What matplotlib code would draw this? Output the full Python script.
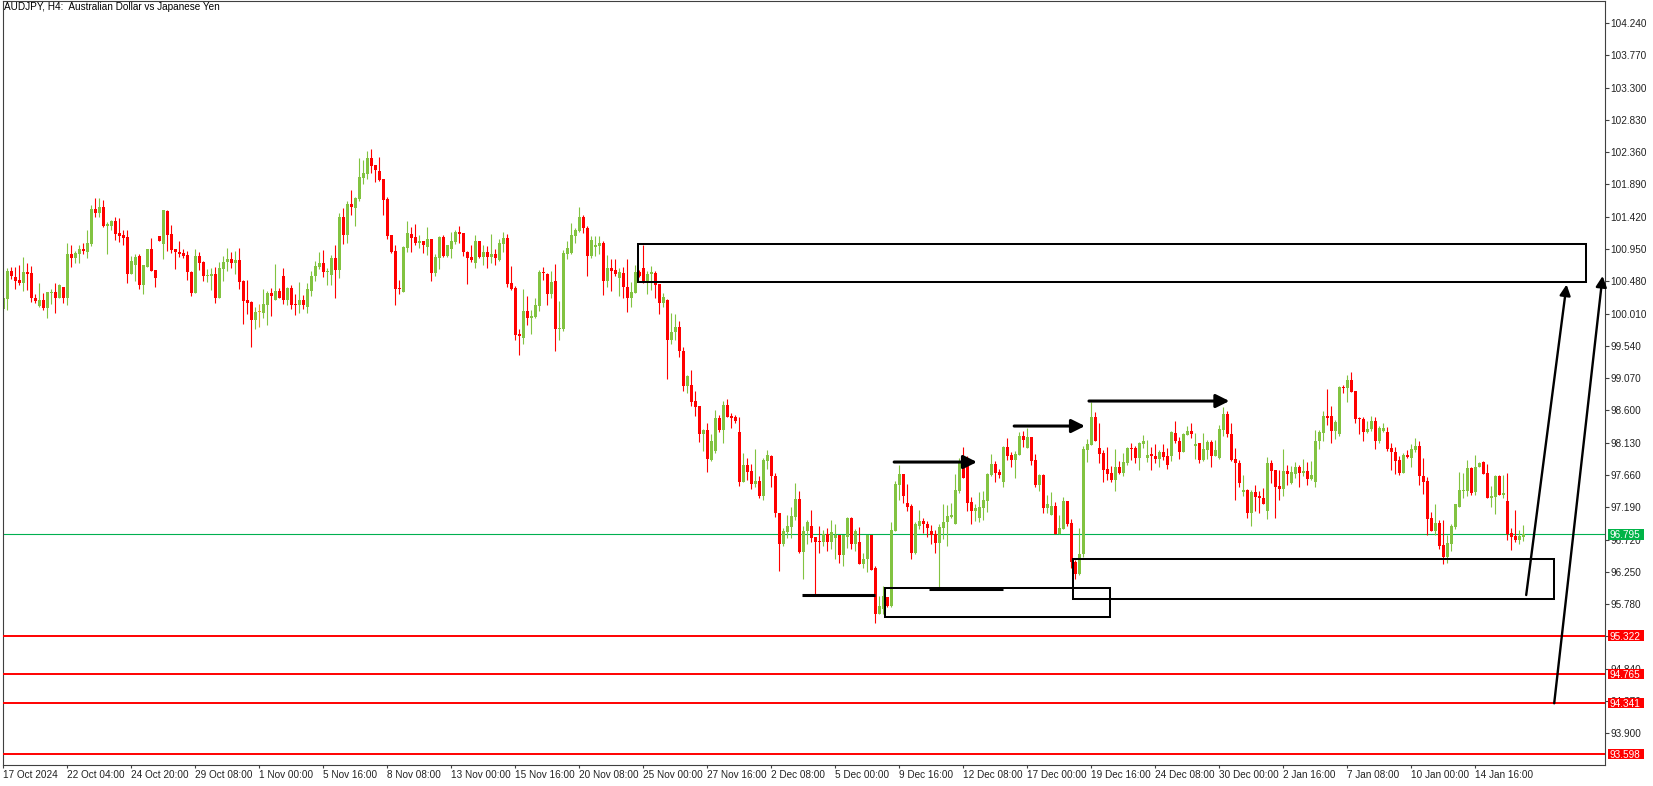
import matplotlib
matplotlib.use('Agg')
import matplotlib.pyplot as plt
import matplotlib.transforms as mtransforms
from matplotlib.patches import Rectangle
import numpy as np

plt.rcParams['font.family'] = ['Liberation Sans', 'DejaVu Sans']

# AUDJPY H4 candles, bar index 0 = 17 Oct 2024 12:00
opens = [
    100.07, 100.22, 100.63, 100.54, 100.50, 100.46, 100.62, 100.60, 100.24, 100.12,
    100.21, 100.09, 100.31, 100.32, 100.23, 100.40, 100.24, 100.88, 100.82, 100.88,
    100.95, 100.91, 101.03, 101.53, 101.48, 101.56, 101.29, 101.28, 101.36, 101.18,
    101.15, 101.12, 100.59, 100.72, 100.85, 100.42, 100.69, 100.95, 100.64, 101.14,
    101.03, 101.50, 101.17, 100.95, 100.91, 100.89, 100.86, 100.62, 100.31, 100.85,
    100.76, 100.55, 100.56, 100.59, 100.23, 100.66, 100.76, 100.80, 100.74, 100.79,
    100.48, 100.21, 100.18, 99.92, 100.03, 100.02, 100.14, 100.31, 100.21, 100.34,
    100.56, 100.21, 100.38, 100.15, 100.13, 100.21, 100.11, 100.34, 100.55, 100.69,
    100.75, 100.62, 100.57, 100.82, 100.64, 101.42, 101.15, 101.61, 101.55, 101.68,
    101.98, 102.04, 102.27, 102.17, 102.09, 101.97, 101.68, 101.15, 100.92, 100.38,
    100.32, 100.96, 101.17, 101.12, 101.04, 101.07, 100.98, 101.10, 100.60, 100.82,
    101.12, 100.85, 100.95, 101.05, 101.20, 101.18, 100.91, 100.83, 100.75, 101.07,
    100.84, 100.91, 100.84, 100.88, 100.79, 101.03, 101.11, 100.45, 100.38, 99.72,
    99.66, 100.05, 99.95, 99.96, 100.12, 100.61, 100.59, 100.29, 100.48, 99.78,
    99.79, 100.88, 100.89, 101.14, 101.21, 101.42, 101.26, 100.85, 100.98, 100.99,
    101.04, 100.49, 100.67, 100.64, 100.53, 100.60, 100.40, 100.23, 100.31, 100.61,
    100.67, 100.47, 100.58, 100.60, 100.44, 100.17, 100.21, 99.63, 99.74, 99.81,
    99.46, 98.96, 98.97, 98.74, 98.67, 98.25, 98.32, 97.88, 98.01, 98.49,
    98.32, 98.68, 98.52, 98.51, 98.29, 97.56, 97.80, 97.72, 97.53, 97.57,
    97.35, 97.86, 97.94, 97.65, 97.10, 96.65, 96.83, 96.91, 97.05, 97.31,
    96.54, 96.85, 96.92, 96.76, 96.70, 96.68, 96.80, 96.69, 96.75, 96.78,
    96.50, 96.76, 97.03, 96.65, 96.68, 96.37, 96.44, 96.78, 96.31, 95.64,
    95.71, 95.88, 95.75, 96.85, 97.52, 97.68, 97.25, 97.21, 96.53, 96.92,
    96.99, 96.95, 96.85, 96.80, 96.67, 96.89, 96.97, 97.05, 96.94, 97.43,
    97.83, 97.80, 97.27, 97.14, 97.03, 97.18, 97.28, 97.66, 97.82, 97.70,
    97.56, 98.07, 97.95, 97.88, 97.95, 98.23, 98.05, 98.21, 97.88, 97.51,
    97.66, 97.18, 97.08, 97.21, 96.80, 96.88, 97.28, 96.96, 96.40, 96.22,
    96.51, 98.02, 98.10, 98.50, 98.05, 97.98, 97.75, 97.69, 97.59, 97.78,
    97.69, 97.83, 98.05, 98.05, 97.91, 98.11, 97.91, 97.96, 97.94, 97.90,
    98.00, 97.94, 97.93, 98.27, 98.16, 98.00, 98.24, 98.30, 98.08, 98.13,
    97.88, 98.03, 98.14, 97.94, 97.91, 98.32, 98.55, 98.26, 97.89, 97.84,
    97.42, 97.44, 97.11, 97.41, 97.35, 97.33, 97.13, 97.84, 97.73, 97.50,
    97.46, 97.72, 97.55, 97.68, 97.78, 97.69, 97.72, 97.60, 97.56, 98.15,
    98.27, 98.52, 98.52, 98.30, 98.26, 98.94, 98.93, 99.04, 98.88, 98.49,
    98.48, 98.29, 98.33, 98.45, 98.15, 98.30, 98.29, 98.05, 97.99, 97.88,
    97.69, 97.95, 97.91, 98.03, 98.08, 97.65, 97.57, 97.03, 96.85, 96.96,
    96.64, 96.46, 96.66, 96.91, 97.20, 97.43, 97.43, 97.76, 97.41, 97.77,
    97.85, 97.69, 97.33, 97.34, 97.65, 97.37, 97.28, 96.82, 96.77, 96.71,
    96.76,
]
highs = [
    100.24, 100.67, 100.69, 100.69, 100.72, 100.83, 100.75, 100.70, 100.30, 100.45,
    100.31, 100.32, 100.37, 100.46, 100.44, 100.40, 101.04, 101.01, 100.92, 101.01,
    101.04, 101.23, 101.59, 101.69, 101.69, 101.66, 101.34, 101.37, 101.42, 101.40,
    101.22, 101.23, 100.85, 100.88, 100.88, 100.72, 100.95, 101.11, 100.64, 101.14,
    101.52, 101.52, 101.30, 100.95, 101.07, 100.95, 100.92, 100.63, 100.95, 100.91,
    100.78, 100.66, 100.67, 100.69, 100.76, 100.85, 100.96, 100.91, 100.92, 100.96,
    100.50, 100.50, 100.20, 100.11, 100.15, 100.37, 100.34, 100.38, 100.73, 100.38,
    100.67, 100.40, 100.43, 100.30, 100.47, 100.28, 100.46, 100.63, 100.78, 100.91,
    100.94, 100.67, 100.86, 101.01, 101.47, 101.55, 101.65, 101.81, 101.71, 102.27,
    102.25, 102.38, 102.41, 102.17, 102.29, 101.97, 101.71, 101.15, 101.01, 100.50,
    100.99, 101.36, 101.27, 101.31, 101.15, 101.07, 101.27, 101.10, 100.88, 101.14,
    101.15, 101.01, 101.20, 101.23, 101.28, 101.18, 100.92, 101.01, 101.15, 101.07,
    101.01, 101.00, 101.17, 100.95, 101.10, 101.20, 101.17, 100.70, 100.41, 99.79,
    100.37, 100.26, 100.06, 100.24, 100.64, 100.69, 100.60, 100.63, 100.73, 100.19,
    100.94, 101.07, 101.33, 101.25, 101.56, 101.44, 101.28, 101.14, 101.14, 101.14,
    101.07, 100.86, 100.80, 100.80, 100.67, 100.69, 100.80, 100.47, 100.72, 100.65,
    101.01, 100.63, 100.70, 100.63, 100.44, 100.31, 100.22, 100.02, 100.00, 99.90,
    99.52, 99.12, 99.19, 98.88, 98.67, 98.33, 98.42, 98.25, 98.61, 98.54,
    98.74, 98.76, 98.57, 98.54, 98.51, 97.98, 97.91, 97.82, 98.04, 97.65,
    97.91, 98.02, 97.95, 97.69, 97.11, 96.89, 97.08, 97.20, 97.54, 97.43,
    96.92, 97.01, 97.15, 96.76, 96.92, 96.86, 96.89, 97.01, 96.95, 96.79,
    96.79, 97.05, 97.05, 96.87, 96.90, 96.52, 96.79, 96.79, 96.34, 95.90,
    96.04, 95.88, 96.98, 97.57, 97.81, 97.68, 97.53, 97.24, 96.97, 97.15,
    97.03, 96.99, 96.93, 96.86, 96.94, 97.24, 97.22, 97.25, 97.67, 97.91,
    98.07, 97.94, 97.34, 97.24, 97.41, 97.43, 97.69, 97.97, 97.86, 97.75,
    98.08, 98.20, 98.00, 98.01, 98.29, 98.30, 98.34, 98.21, 97.97, 97.67,
    97.67, 97.37, 97.41, 97.27, 97.08, 97.34, 97.28, 97.02, 96.42, 96.89,
    98.08, 98.18, 98.72, 98.58, 98.42, 98.02, 98.07, 97.79, 98.04, 97.86,
    97.98, 98.07, 98.13, 98.08, 98.14, 98.24, 98.17, 98.07, 98.11, 98.02,
    98.11, 98.05, 98.30, 98.45, 98.21, 98.27, 98.37, 98.42, 98.27, 98.13,
    98.27, 98.17, 98.17, 98.17, 98.39, 98.65, 98.59, 98.42, 98.05, 97.88,
    97.66, 97.46, 97.44, 97.51, 97.43, 97.47, 97.92, 97.88, 97.73, 97.73,
    98.04, 97.81, 97.79, 97.85, 97.81, 97.89, 97.85, 97.86, 98.31, 98.31,
    98.59, 98.91, 98.66, 98.46, 98.96, 98.97, 99.12, 99.16, 98.88, 98.51,
    98.50, 98.45, 98.52, 98.50, 98.38, 98.42, 98.36, 98.13, 98.07, 97.94,
    97.98, 98.02, 98.11, 98.20, 98.15, 97.91, 97.63, 97.12, 97.24, 97.00,
    97.00, 96.79, 96.95, 97.24, 97.70, 97.69, 97.88, 97.78, 97.95, 97.85,
    97.86, 97.82, 97.50, 97.66, 97.66, 97.66, 97.69, 96.89, 97.15, 96.86,
    96.93,
]
lows = [
    100.05, 100.06, 100.52, 100.37, 100.43, 100.34, 100.35, 100.18, 100.17, 100.11,
    100.06, 99.94, 100.15, 100.02, 100.23, 100.17, 100.14, 100.69, 100.74, 100.74,
    100.87, 100.82, 101.00, 101.42, 101.42, 101.27, 100.88, 101.22, 101.08, 101.05,
    101.01, 100.45, 100.59, 100.49, 100.37, 100.29, 100.69, 100.63, 100.39, 101.07,
    100.80, 100.92, 100.89, 100.66, 100.83, 100.82, 100.50, 100.26, 100.31, 100.64,
    100.48, 100.47, 100.35, 100.17, 100.23, 100.49, 100.63, 100.68, 100.59, 100.37,
    99.86, 100.01, 99.53, 99.79, 99.82, 99.94, 99.85, 99.97, 100.21, 100.23,
    100.15, 100.14, 100.07, 99.99, 100.02, 100.08, 100.02, 100.26, 100.48, 100.66,
    100.54, 100.42, 100.43, 100.24, 100.53, 101.02, 101.04, 101.44, 101.28, 101.65,
    101.90, 101.97, 102.06, 101.93, 101.94, 101.44, 101.10, 100.89, 100.13, 100.29,
    100.32, 100.91, 100.91, 101.01, 100.96, 100.89, 100.86, 100.48, 100.56, 100.66,
    100.83, 100.83, 100.82, 101.02, 101.04, 100.85, 100.44, 100.76, 100.67, 100.82,
    100.72, 100.67, 100.75, 100.71, 100.77, 100.91, 100.40, 100.36, 99.63, 99.41,
    99.56, 99.85, 99.72, 99.94, 100.05, 100.50, 100.14, 100.24, 99.47, 99.63,
    99.76, 100.81, 100.88, 101.04, 101.20, 101.19, 100.56, 100.82, 100.85, 100.88,
    100.28, 100.39, 100.34, 100.56, 100.26, 100.24, 100.04, 100.10, 100.31, 100.54,
    100.45, 100.30, 100.35, 100.24, 100.00, 100.10, 99.06, 99.57, 99.62, 99.38,
    98.89, 98.86, 98.67, 98.52, 98.14, 98.01, 97.71, 97.87, 97.98, 98.28,
    98.13, 98.50, 98.34, 98.42, 97.50, 97.56, 97.59, 97.45, 97.48, 97.33,
    97.29, 97.75, 97.48, 97.05, 96.27, 96.63, 96.74, 96.75, 97.01, 96.53,
    96.15, 96.66, 96.68, 95.91, 96.52, 96.62, 96.56, 96.59, 96.44, 96.38,
    96.33, 96.60, 96.59, 96.56, 96.37, 96.31, 96.25, 96.28, 95.51, 95.64,
    95.64, 95.74, 95.74, 96.85, 97.30, 97.26, 97.13, 96.44, 96.51, 96.87,
    96.82, 96.76, 96.66, 96.53, 96.03, 96.73, 96.63, 97.04, 96.94, 97.40,
    97.61, 97.14, 96.95, 96.99, 96.98, 97.00, 97.12, 97.65, 97.56, 97.62,
    97.48, 97.88, 97.77, 97.62, 97.95, 98.07, 98.05, 97.81, 97.48, 97.43,
    97.11, 97.11, 97.08, 96.80, 96.80, 96.87, 96.92, 96.30, 96.14, 96.20,
    96.47, 97.85, 98.10, 98.15, 97.84, 97.56, 97.59, 97.56, 97.43, 97.68,
    97.64, 97.80, 97.88, 97.83, 97.74, 98.06, 97.85, 97.74, 97.84, 97.77,
    97.88, 97.75, 97.87, 98.12, 97.90, 97.99, 98.24, 98.20, 97.89, 97.84,
    97.87, 97.90, 97.77, 97.93, 97.90, 98.23, 98.21, 97.86, 97.29, 97.49,
    97.36, 97.04, 96.92, 97.13, 97.10, 97.24, 97.02, 97.55, 97.04, 97.30,
    97.36, 97.52, 97.53, 97.61, 97.49, 97.64, 97.52, 97.59, 97.49, 98.04,
    98.15, 98.39, 98.13, 98.19, 98.23, 98.86, 98.73, 98.87, 98.41, 98.25,
    98.15, 98.27, 98.30, 98.04, 98.12, 98.29, 98.01, 97.74, 97.68, 97.66,
    97.69, 97.91, 97.78, 97.99, 97.52, 97.39, 96.78, 96.85, 96.78, 96.59,
    96.37, 96.38, 96.56, 96.88, 97.20, 97.32, 97.36, 97.37, 97.37, 97.77,
    97.67, 97.32, 97.19, 97.09, 97.37, 97.33, 96.71, 96.57, 96.68, 96.65,
    96.70,
]
closes = [
    100.23, 100.63, 100.56, 100.48, 100.45, 100.62, 100.59, 100.23, 100.20, 100.21,
    100.09, 100.32, 100.32, 100.23, 100.43, 100.24, 100.88, 100.82, 100.89, 100.95,
    100.92, 101.04, 101.53, 101.48, 101.56, 101.28, 101.31, 101.36, 101.17, 101.14,
    101.11, 100.59, 100.78, 100.83, 100.42, 100.72, 100.95, 100.63, 100.53, 101.07,
    101.52, 101.15, 100.94, 100.90, 100.88, 100.85, 100.61, 100.31, 100.85, 100.75,
    100.55, 100.57, 100.59, 100.23, 100.67, 100.76, 100.80, 100.75, 100.79, 100.47,
    100.20, 100.17, 99.92, 100.03, 100.03, 100.15, 100.31, 100.26, 100.34, 100.23,
    100.21, 100.38, 100.14, 100.13, 100.21, 100.14, 100.37, 100.56, 100.70, 100.75,
    100.62, 100.63, 100.82, 100.64, 101.42, 101.15, 101.61, 101.56, 101.69, 102.00,
    102.06, 102.27, 102.16, 102.10, 101.95, 101.66, 101.14, 100.91, 100.37, 100.37,
    100.98, 101.18, 101.11, 101.04, 101.07, 101.01, 101.10, 100.60, 100.83, 101.12,
    100.85, 101.01, 101.07, 101.20, 101.17, 100.90, 100.82, 100.79, 101.07, 100.84,
    100.91, 100.83, 100.88, 100.82, 101.04, 101.11, 100.44, 100.37, 99.70, 99.69,
    100.05, 99.95, 99.98, 100.13, 100.61, 100.60, 100.29, 100.47, 99.78, 99.80,
    100.89, 100.96, 101.15, 101.23, 101.42, 101.25, 100.85, 101.08, 101.01, 101.04,
    100.49, 100.68, 100.63, 100.58, 100.61, 100.39, 100.23, 100.32, 100.61, 100.55,
    100.47, 100.59, 100.61, 100.43, 100.17, 100.25, 99.62, 99.74, 99.81, 99.46,
    98.96, 99.10, 98.73, 98.65, 98.25, 98.32, 97.90, 98.16, 98.49, 98.32,
    98.68, 98.51, 98.49, 98.44, 97.56, 97.80, 97.71, 97.53, 97.58, 97.35,
    97.88, 97.95, 97.64, 97.10, 96.65, 96.85, 96.92, 97.06, 97.31, 96.54,
    96.85, 96.98, 96.75, 96.69, 96.68, 96.80, 96.69, 96.83, 96.78, 96.50,
    96.78, 97.03, 96.65, 96.85, 96.37, 96.44, 96.78, 96.28, 95.64, 95.75,
    95.90, 95.75, 96.86, 97.53, 97.68, 97.36, 97.20, 96.53, 96.94, 96.99,
    96.94, 96.89, 96.79, 96.67, 96.91, 96.98, 97.06, 97.08, 97.44, 97.83,
    97.61, 97.26, 97.14, 97.18, 97.19, 97.30, 97.67, 97.82, 97.69, 97.66,
    98.07, 97.94, 97.88, 97.97, 98.23, 98.17, 98.21, 97.86, 97.51, 97.66,
    97.18, 97.24, 97.21, 96.80, 96.89, 97.28, 96.94, 96.40, 96.22, 96.51,
    98.04, 98.11, 98.50, 98.15, 97.97, 97.74, 97.68, 97.59, 97.78, 97.69,
    97.85, 98.05, 98.04, 97.91, 98.13, 98.16, 97.95, 97.94, 97.90, 98.00,
    97.92, 97.81, 98.29, 98.15, 98.00, 98.26, 98.30, 98.26, 98.11, 97.88,
    98.04, 98.14, 97.94, 98.02, 98.33, 98.55, 98.26, 97.88, 97.83, 97.55,
    97.44, 97.11, 97.41, 97.34, 97.33, 97.24, 97.84, 97.72, 97.48, 97.46,
    97.72, 97.67, 97.70, 97.78, 97.69, 97.72, 97.60, 97.66, 98.16, 98.29,
    98.52, 98.49, 98.30, 98.43, 98.94, 98.93, 99.04, 98.87, 98.47, 98.48,
    98.29, 98.33, 98.45, 98.15, 98.35, 98.34, 98.04, 97.99, 97.86, 97.69,
    97.95, 97.92, 98.04, 98.08, 97.64, 97.56, 97.02, 96.85, 96.96, 96.63,
    96.46, 96.67, 96.92, 97.24, 97.44, 97.44, 97.76, 97.40, 97.78, 97.83,
    97.68, 97.33, 97.35, 97.65, 97.37, 97.40, 96.80, 96.76, 96.71, 96.77,
    96.80,
]

# time axis labels, one every 16 bars
date_labels = ['17 Oct 2024', '22 Oct 04:00', '24 Oct 20:00', '29 Oct 08:00', '1 Nov 00:00',
               '5 Nov 16:00', '8 Nov 08:00', '13 Nov 00:00', '15 Nov 16:00', '20 Nov 08:00',
               '25 Nov 00:00', '27 Nov 16:00', '2 Dec 08:00', '5 Dec 00:00', '9 Dec 16:00',
               '12 Dec 08:00', '17 Dec 00:00', '19 Dec 16:00', '24 Dec 08:00', '30 Dec 00:00',
               '2 Jan 16:00', '7 Jan 08:00', '10 Jan 00:00', '14 Jan 16:00']
date_idx = [16 * k for k in range(len(date_labels))]

price_ticks = [93.900, 94.370, 94.840, 95.310, 95.780, 96.250, 96.720, 97.190, 97.660,
               98.130, 98.600, 99.070, 99.540, 100.010, 100.480, 100.950, 101.420,
               101.890, 102.360, 102.830, 103.300, 103.770, 104.240]

bid_price = 96.795
red_levels = [95.322, 94.765, 94.341, 93.598]

# drawn objects (bar index, price)
zones = [(158.6, 395.6, 100.474, 101.02),
         (220.5, 276.7, 95.60, 96.02),
         (267.4, 387.7, 95.851, 96.437)]
level_lines = [(199.6, 217.9, 95.913), (231.5, 249.9, 95.996)]
h_arrows = [(222.7, 243.4, 97.849), (252.7, 270.4, 98.373), (271.4, 306.5, 98.737)]
diag_arrows = [(380.7, 95.913, 390.8, 100.433), (387.7, 94.337, 399.8, 100.557)]

GREEN = '#82C341'
RED = '#FF0000'
DOJI = '#DAA520'
TXT = '#222222'
FS = 7.2

W, H = 1653, 786
fig = plt.figure(figsize=(W / 100, H / 100), dpi=100)
ax = fig.add_axes([2.5 / W, (H - 765) / H, (1605 - 2.5) / W, (765 - 1) / H])

o = np.array(opens)
hi = np.array(highs)
lo = np.array(lows)
c = np.array(closes)
x = np.arange(len(c))
cols = np.where(c > o, GREEN, np.where(c < o, RED, DOJI))

ax.vlines(x, lo, hi, colors=cols, lw=0.8, zorder=2)
ax.bar(x, np.maximum(np.abs(c - o), 0.013), bottom=np.minimum(o, c), width=0.75,
       color=cols, lw=0, zorder=2)

ax.set_xlim(-0.2, 400.4)
ax.set_ylim(93.439, 104.560)

# lines
ax.axhline(bid_price, color='#00B050', lw=0.8, zorder=1.5)
for p in red_levels:
    ax.axhline(p, color=RED, lw=1.4, zorder=4)

for x0, x1, y0, y1 in zones:
    ax.add_patch(Rectangle((x0, y0), x1 - x0, y1 - y0, fill=False, ec='black', lw=1.45, zorder=3))
for x0, x1, y in level_lines:
    ax.hlines(y, x0, x1, color='black', lw=2.2, zorder=3)
for x0, x1, y in h_arrows:
    ax.annotate('', xy=(x1, y), xytext=(x0, y), zorder=4,
                arrowprops=dict(arrowstyle='-|>', color='black', lw=2.2, mutation_scale=20,
                                shrinkA=0, shrinkB=0))
for x0, y0, x1, y1 in diag_arrows:
    ax.annotate('', xy=(x1, y1), xytext=(x0, y0), zorder=4, annotation_clip=False,
                arrowprops=dict(arrowstyle='-|>', color='black', lw=1.7, mutation_scale=16,
                                shrinkA=0, shrinkB=0))

# axes styling
for s in ax.spines.values():
    s.set_color('#404040')
    s.set_linewidth(0.8)
ax.yaxis.tick_right()
ax.set_yticks(price_ticks)
ax.set_yticklabels([f'{v:.3f}' for v in price_ticks])
ax.tick_params(axis='y', direction='out', length=2.9, width=0.8, color='#404040',
               labelcolor=TXT, labelsize=FS, pad=1.0)
ax.set_xticks(date_idx)
ax.set_xticklabels(date_labels, ha='left')
ax.tick_params(axis='x', direction='out', length=2.2, width=0.8, color='#404040',
               labelcolor=TXT, labelsize=FS, pad=1.2)

# price tags on the right
trans = mtransforms.blended_transform_factory(ax.transAxes, ax.transData)
ax_w = 1605 - 2.5
tag_x = (1608.3 - 2.5) / ax_w
tag_w = 36 / ax_w
txt_x = (1609.5 - 2.5) / ax_w
half_h = 5.4 * 0.014556
tags = [(bid_price, '#00B347')] + [(p, RED) for p in red_levels]
for v, col in tags:
    ax.add_patch(Rectangle((tag_x, v - half_h), tag_w, 2 * half_h, transform=trans,
                           color=col, lw=0, clip_on=False, zorder=6))
    ax.text(txt_x, v, f'{v:.3f}', transform=trans, color='white', fontsize=FS,
            ha='left', va='center_baseline', clip_on=False, zorder=7)

fig.text(4 / W, 1 - 7.5 / H, 'AUDJPY, H4:  Australian Dollar vs Japanese Yen',
         fontsize=FS, ha='left', va='center', color='black')

fig.savefig('out.png', dpi=100)
